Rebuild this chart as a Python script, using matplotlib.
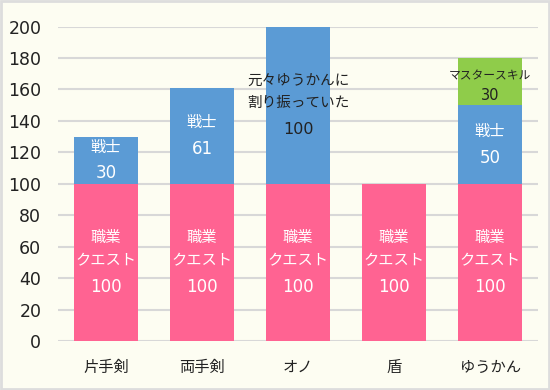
import matplotlib.pyplot as plt
import numpy as np

plt.rcParams['font.family'] = ['Noto Sans CJK JP', 'DejaVu Sans']

categories = ['片手剣', '両手剣', 'オノ', '盾', 'ゆうかん']
quest = [100, 100, 100, 100, 100]
warrior = [30, 61, 100, 0, 50]
master = [0, 0, 0, 0, 30]

quest_labels = [['職業', 'クエスト', '100']] * 5
warrior_labels = [['戦士', '30'], ['戦士', '61'], ['元々ゆうかんに', '割り振っていた', '100'], [], ['戦士', '50']]
master_labels = [[], [], [], [], ['マスタースキル', '30']]

pink = '#FF6392'
blue = '#5B9BD5'
green = '#8FCC4A'
bg = '#FDFDF2'


def draw_label(ax, xc, yc, lines, color, jp_size=11, num_size=12, gap=16.5, shift=0):
    # place each line separately so the digits can use a wider font
    if not lines:
        return
    offs = [0.0]
    for prev, cur in zip(lines[:-1], lines[1:]):
        g = gap + (2.5 if cur.isdigit() else 0)
        offs.append(offs[-1] - g)
    mid = (offs[0] + offs[-1]) / 2
    for line, o in zip(lines, offs):
        if line.isdigit():
            kw = dict(fontsize=num_size, family='DejaVu Sans')
        else:
            kw = dict(fontsize=jp_size)
        ax.annotate(line, (xc, yc), xytext=(0, o - mid - shift), textcoords='offset points',
                    ha='center', va='center', color=color, zorder=3, **kw)


fig = plt.figure(figsize=(5.5, 3.9), dpi=100, facecolor=bg)
ax = fig.add_axes([0.1055, 0.1256, 0.8727, 0.8064])
ax.set_facecolor(bg)

x = np.arange(len(categories))
w = 0.667
quest = np.array(quest)
warrior = np.array(warrior)
master = np.array(master)

ax.bar(x, quest, w, color=pink, zorder=2)
ax.bar(x, warrior, w, bottom=quest, color=blue, zorder=2)
ax.bar(x, master, w, bottom=quest + warrior, color=green, zorder=2)

for i in range(len(categories)):
    draw_label(ax, x[i], quest[i] / 2, quest_labels[i], 'white')
    if i == 2:
        draw_label(ax, x[i], quest[i] + warrior[i] / 2, warrior_labels[i], '#222222',
                   jp_size=10.5, num_size=11.5)
    else:
        draw_label(ax, x[i], quest[i] + warrior[i] / 2, warrior_labels[i], 'white')
    draw_label(ax, x[i], quest[i] + warrior[i] + master[i] / 2, master_labels[i], '#222222',
               jp_size=8.5, num_size=10.5, gap=11.5, shift=3)

ax.set_xlim(-0.5, len(categories) - 0.5)
ax.set_ylim(0, 200)
ax.set_yticks(range(0, 201, 20))
ax.set_xticks(x)
ax.set_xticklabels(categories, fontsize=11)
ax.tick_params(axis='y', labelsize=12.5, length=0, pad=12, labelcolor='#222222')
ax.tick_params(axis='x', length=0, pad=13, labelcolor='#222222')
for lbl in ax.get_yticklabels():
    lbl.set_family('DejaVu Sans')
ax.grid(axis='y', color='#D8D8D8', linewidth=1.5, zorder=1)
for s in ax.spines.values():
    s.set_visible(False)

fig.patches.append(plt.Rectangle((0.002, 0.003), 0.996, 0.994, transform=fig.transFigure,
                                 fill=False, edgecolor='#DDDDDD', linewidth=2))

fig.savefig('out.png', dpi=100, facecolor=bg)
